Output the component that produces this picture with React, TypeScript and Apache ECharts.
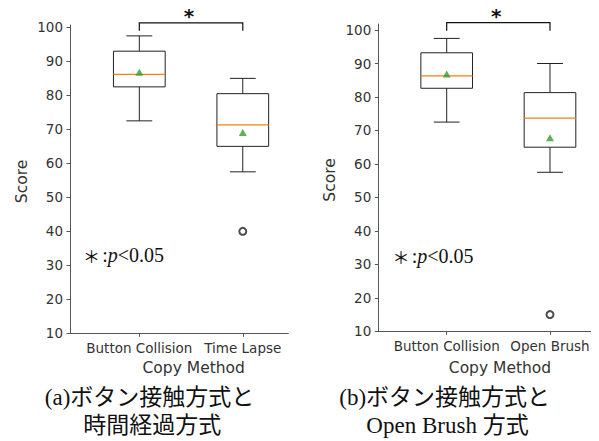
import React, { useEffect, useRef } from "react";
import * as echarts from "echarts";

// ---- data ----
const categoriesA = ["Button Collision", "Time Lapse"];
const categoriesB = ["Button Collision", "Open Brush"];
// [position, lowerWhisker, Q1, median, Q3, upperWhisker]
const boxA = [
  [1, 72.5, 82.5, 86.2, 93.0, 97.5],
  [2, 57.5, 65.0, 71.3, 80.5, 85.0],
];
const boxB = [
  [1, 72.5, 82.6, 86.3, 93.2, 97.5],
  [2, 57.5, 65.0, 73.7, 81.3, 90.0],
];
const meanA = [[1, 86.8], [2, 69.1]];
const meanB = [[1, 86.9], [2, 67.8]];
const outliersA = [[2, 40]];
const outliersB = [[2, 15]];
// [x1, x2, barY, legBottomY]
const sigA = [[1, 2, 101.35, 99.0]];
const sigB = [[1, 2, 102.2, 99.8]];
const yTicks = [10, 20, 30, 40, 50, 60, 70, 80, 90, 100];
const xTicks = [1, 2];

const SANS = "DejaVu Sans";
const SERIF = "Liberation Serif, 'Noto Sans CJK JP'";
const TXT = "#333";
const AX = "#555";

function boxRender(params: any, api: any) {
  const x = api.value(0);
  const lo = api.value(1), q1 = api.value(2), med = api.value(3), q3 = api.value(4), hi = api.value(5);
  const hb = 0.25, hc = 0.125;
  const c = (a: number, b: number) => api.coord([a, b]);
  const tl = c(x - hb, q3), br = c(x + hb, q1);
  const line = (p1: number[], p2: number[], stroke: string, w: number) => ({
    type: "line",
    shape: { x1: p1[0], y1: p1[1], x2: p2[0], y2: p2[1] },
    style: { stroke, lineWidth: w },
  });
  return {
    type: "group",
    children: [
      {
        type: "rect",
        shape: { x: tl[0], y: tl[1], width: br[0] - tl[0], height: br[1] - tl[1] },
        style: { fill: "none", stroke: "#222", lineWidth: 1 },
      },
      line(c(x, q3), c(x, hi), "#222", 1),
      line(c(x, q1), c(x, lo), "#222", 1),
      line(c(x - hc, hi), c(x + hc, hi), "#222", 1),
      line(c(x - hc, lo), c(x + hc, lo), "#222", 1),
      line(c(x - hb, med), c(x + hb, med), "#ff7f0e", 1.2),
    ],
  };
}

function sigRender(params: any, api: any) {
  const x1 = api.value(0), x2 = api.value(1), yb = api.value(2), yl = api.value(3);
  const a = api.coord([x1, yl]), b = api.coord([x1, yb]), cc = api.coord([x2, yb]), d = api.coord([x2, yl]);
  return {
    type: "group",
    children: [
      {
        type: "polyline",
        shape: { points: [a, b, cc, d] },
        style: { fill: "none", stroke: "#111", lineWidth: 1.2 },
      },
      {
        type: "text",
        style: {
          text: "*",
          x: (b[0] + cc[0]) / 2 - 2,
          y: b[1] - 7,
          align: "center",
          verticalAlign: "middle",
          fontSize: 20,
          fontWeight: "bold",
          fontFamily: SANS,
          fill: "#111",
        },
      },
    ],
  };
}

function makeAxes(idx: number, cats: string[], xMin: number, xMax: number, yMax: number) {
  const xAxis = {
    type: "value",
    gridIndex: idx,
    min: xMin,
    max: xMax,
    splitLine: { show: false },
    axisLine: { show: true, onZero: false, lineStyle: { color: AX, width: 1 } },
    axisTick: { show: true, customValues: xTicks, length: 3.5, lineStyle: { color: AX } },
    axisLabel: {
      customValues: xTicks,
      formatter: (v: number) => cats[Math.round(v) - 1] ?? "",
      fontFamily: SANS,
      fontSize: 13.5,
      color: TXT,
      margin: 8,
    },
  };
  const yAxis = {
    type: "value",
    gridIndex: idx,
    min: 10,
    max: yMax,
    splitLine: { show: false },
    axisLine: { show: true, onZero: false, lineStyle: { color: AX, width: 1 } },
    axisTick: { show: true, customValues: yTicks, length: 3.5, lineStyle: { color: AX } },
    axisLabel: {
      customValues: yTicks,
      fontFamily: SANS,
      fontSize: 13.5,
      color: TXT,
      margin: 7,
    },
  };
  return { xAxis, yAxis };
}

function panelSeries(idx: number, box: number[][], mean: number[][], outl: number[][], sig: number[][]) {
  return [
    {
      type: "custom",
      xAxisIndex: idx,
      yAxisIndex: idx,
      renderItem: boxRender,
      encode: { x: 0, y: [1, 2, 3, 4, 5] },
      data: box,
      clip: false,
      z: 2,
    },
    {
      type: "scatter",
      xAxisIndex: idx,
      yAxisIndex: idx,
      symbol: "triangle",
      symbolSize: [8, 7],
      itemStyle: { color: "#2ca02c" },
      data: mean,
      z: 3,
    },
    {
      type: "scatter",
      xAxisIndex: idx,
      yAxisIndex: idx,
      symbol: "emptyCircle",
      symbolSize: 7,
      itemStyle: { color: "#222", borderColor: "#222", borderWidth: 1 },
      data: outl,
      z: 3,
    },
    {
      type: "custom",
      xAxisIndex: idx,
      yAxisIndex: idx,
      renderItem: sigRender,
      encode: { x: [0, 1], y: [2, 3] },
      data: sig,
      clip: false,
      z: 4,
    },
  ];
}

function pText(x: number, y: number) {
  return {
    type: "text",
    x,
    y,
    style: {
      text: "{a|＊}{s| }{b|:}{i|p}{b|<0.05}",
      verticalAlign: "middle",
      align: "left",
      rich: {
        a: { fontFamily: "'Noto Sans CJK JP'", fontSize: 17, fill: "#111", verticalAlign: "middle" },
        s: { fontFamily: "Liberation Serif", fontSize: 9, fill: "#111" },
        b: { fontFamily: "Liberation Serif", fontSize: 20, fill: "#111" },
        i: { fontFamily: "Liberation Serif", fontSize: 20, fontStyle: "italic", fill: "#111" },
      },
    },
  };
}

function plainText(text: string, x: number, y: number, size: number, family: string, rot = 0) {
  return {
    type: "text",
    x,
    y,
    rotation: rot,
    style: {
      text,
      align: "center",
      verticalAlign: "middle",
      fontSize: size,
      fontFamily: family,
      fill: rot || family === SANS ? TXT : "#111",
    },
  };
}

export default function App() {
  const ref = useRef<HTMLDivElement>(null);
  useEffect(() => {
    if (!ref.current) return;
    const chart = echarts.init(ref.current, undefined, { renderer: "svg" });
    const a = makeAxes(0, categoriesA, 0.33, 2.44, 100.7);
    const b = makeAxes(1, categoriesB, 0.338, 2.394, 101.8);
    chart.setOption({
      animation: false,
      backgroundColor: "#fff",
      grid: [
        { left: 70, top: 25, width: 218.3, height: 308.3 },
        { left: 378.3, top: 24, width: 212.4, height: 307.3 },
      ],
      xAxis: [a.xAxis, b.xAxis],
      yAxis: [a.yAxis, b.yAxis],
      series: [
        ...panelSeries(0, boxA, meanA, outliersA, sigA),
        ...panelSeries(1, boxB, meanB, outliersB, sigB),
      ],
      graphic: [
        plainText("Score", 22, 181.5, 15.5, SANS, Math.PI / 2),
        plainText("Score", 329.5, 180, 15.5, SANS, Math.PI / 2),
        plainText("Copy Method", 193.7, 368, 15.5, SANS),
        plainText("Copy Method", 500, 368, 15.5, SANS),
        pText(83, 255),
        pText(392.5, 256),
        plainText("(a)ボタン接触方式と", 149.6, 397, 23, SERIF),
        plainText("時間経過方式", 152.3, 425, 23, SERIF),
        plainText("(b)ボタン接触方式と", 444.7, 397, 23, SERIF),
        plainText("Open Brush 方式", 447.5, 425, 23, SERIF),
      ],
    });
    return () => chart.dispose();
  }, []);
  return (
    <div
      ref={ref}
      style={{ position: "absolute", left: 0, top: 0, width: 599, height: 441 }}
    />
  );
}
